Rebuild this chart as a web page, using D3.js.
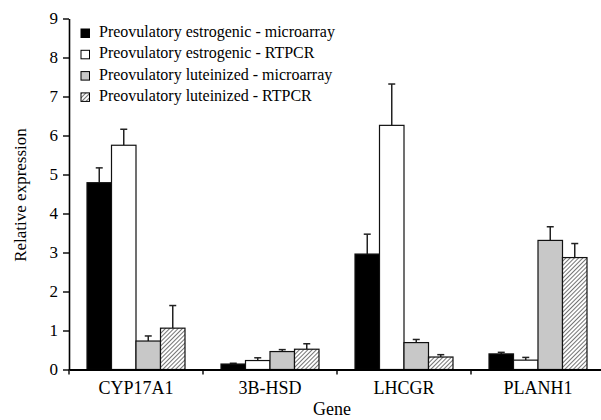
<!DOCTYPE html>
<html>
<head>
<meta charset="utf-8">
<script src="https://cdn.jsdelivr.net/npm/d3@7"></script>
<style>
  body { margin: 0; background: #fff; }
</style>
</head>
<body>
<script>
// chart values
var genes = ["CYP17A1", "3B-HSD", "LHCGR", "PLANH1"];
var series = ["Preovulatory estrogenic - microarray",
              "Preovulatory estrogenic - RTPCR",
              "Preovulatory luteinized - microarray",
              "Preovulatory luteinized - RTPCR"];
var estMicro = [4.79, 0.14, 2.96, 0.40];
var estMicroErr = [5.17, 0.16, 3.47, 0.44];
var estRt = [5.75, 0.23, 6.26, 0.24];
var estRtErr = [6.16, 0.30, 7.32, 0.31];
var lutMicro = [0.73, 0.46, 0.69, 3.31];
var lutMicroErr = [0.86, 0.51, 0.77, 3.66];
var lutRt = [1.06, 0.52, 0.32, 2.87];
var lutRtErr = [1.64, 0.66, 0.38, 3.23];
var yTicks = [0, 1, 2, 3, 4, 5, 6, 7, 8, 9];

var values = [estMicro, estRt, lutMicro, lutRt];
var errs = [estMicroErr, estRtErr, lutMicroErr, lutRtErr];
var fills = ["#000", "#fff", "#c8c8c8", "url(#hatch)"];

var w = 601, h = 420;
var serif = "'Liberation Serif'";

var svg = d3.select("body").append("svg")
    .attr("width", w)
    .attr("height", h);

// diagonal hatch for the last series
var pat = svg.append("defs").append("pattern")
    .attr("id", "hatch")
    .attr("patternUnits", "userSpaceOnUse")
    .attr("width", 3)
    .attr("height", 3)
    .attr("patternTransform", "rotate(45)");
pat.append("rect").attr("width", 3).attr("height", 3).attr("fill", "#fff");
pat.append("line")
    .attr("x1", 0).attr("y1", 0).attr("x2", 0).attr("y2", 3)
    .attr("stroke", "#000").attr("stroke-width", 1.1);

var x0 = d3.scaleBand()
    .domain(genes)
    .range([69, 605]);

var x1 = d3.scaleBand()
    .domain(d3.range(series.length))
    .range([18, 116]);

var y = d3.scaleLinear()
    .domain([0, 9])
    .range([369.5, 18.5]);

// bars
var groups = svg.selectAll("g.gene")
    .data(genes)
    .enter().append("g")
    .attr("class", "gene")
    .attr("transform", function(d) { return "translate(" + x0(d) + ",0)"; });

groups.each(function(g, gi) {
  var grp = d3.select(this);
  series.forEach(function(s, si) {
    var v = values[si][gi], e = errs[si][gi];
    var cx = x1(si) + x1.bandwidth() / 2;
    // error bar
    grp.append("line")
        .attr("x1", cx).attr("x2", cx)
        .attr("y1", y(v)).attr("y2", y(e))
        .attr("stroke", "#222").attr("stroke-width", 1.5);
    grp.append("line")
        .attr("x1", cx - 3.5).attr("x2", cx + 3.5)
        .attr("y1", y(e)).attr("y2", y(e))
        .attr("stroke", "#222").attr("stroke-width", 1.5);
    grp.append("rect")
        .attr("x", x1(si))
        .attr("y", y(v))
        .attr("width", x1.bandwidth())
        .attr("height", y(0) - y(v))
        .attr("fill", fills[si])
        .attr("stroke", "#111")
        .attr("stroke-width", 1.2);
  });
});

// y axis
var yAxis = svg.append("g")
    .attr("transform", "translate(69,0)")
    .call(d3.axisLeft(y).tickValues(yTicks).tickSize(6).tickPadding(5).tickSizeOuter(0));
yAxis.select(".domain").attr("stroke-width", 1.6);
yAxis.selectAll(".tick line").attr("stroke-width", 1.4);
yAxis.selectAll("text").style("font-family", serif).style("font-size", "17px");

// x axis
var xAxis = svg.append("g")
    .attr("transform", "translate(0," + y(0) + ")")
    .call(d3.axisBottom(x0).tickSize(0).tickPadding(12).tickSizeOuter(0));
xAxis.select(".domain").attr("stroke-width", 2);
xAxis.selectAll("text").style("font-family", serif).style("font-size", "18px");

// boundary ticks between genes
svg.append("g").selectAll("line")
    .data(genes)
    .enter().append("line")
    .attr("x1", function(d) { return x0(d); })
    .attr("x2", function(d) { return x0(d); })
    .attr("y1", y(0))
    .attr("y2", y(0) + 5)
    .attr("stroke", "#000")
    .attr("stroke-width", 1.4);

// axis titles
svg.append("text")
    .attr("transform", "translate(26,195) rotate(-90)")
    .attr("text-anchor", "middle")
    .style("font-family", serif)
    .style("font-size", "17px")
    .text("Relative expression");

svg.append("text")
    .attr("x", 332)
    .attr("y", 415)
    .attr("text-anchor", "middle")
    .style("font-family", serif)
    .style("font-size", "18px")
    .text("Gene");

// legend
var legend = svg.append("g")
    .attr("transform", "translate(81,29)");
var items = legend.selectAll("g")
    .data(series)
    .enter().append("g")
    .attr("transform", function(d, i) { return "translate(0," + (i * 21.3) + ")"; });
items.append("rect")
    .attr("width", 8.5)
    .attr("height", 8.5)
    .attr("fill", function(d, i) { return fills[i]; })
    .attr("stroke", "#000")
    .attr("stroke-width", 1);
items.append("text")
    .attr("x", 18)
    .attr("y", 8)
    .style("font-family", serif)
    .style("font-size", "16px")
    .text(function(d) { return d; });
</script>
</body>
</html>
